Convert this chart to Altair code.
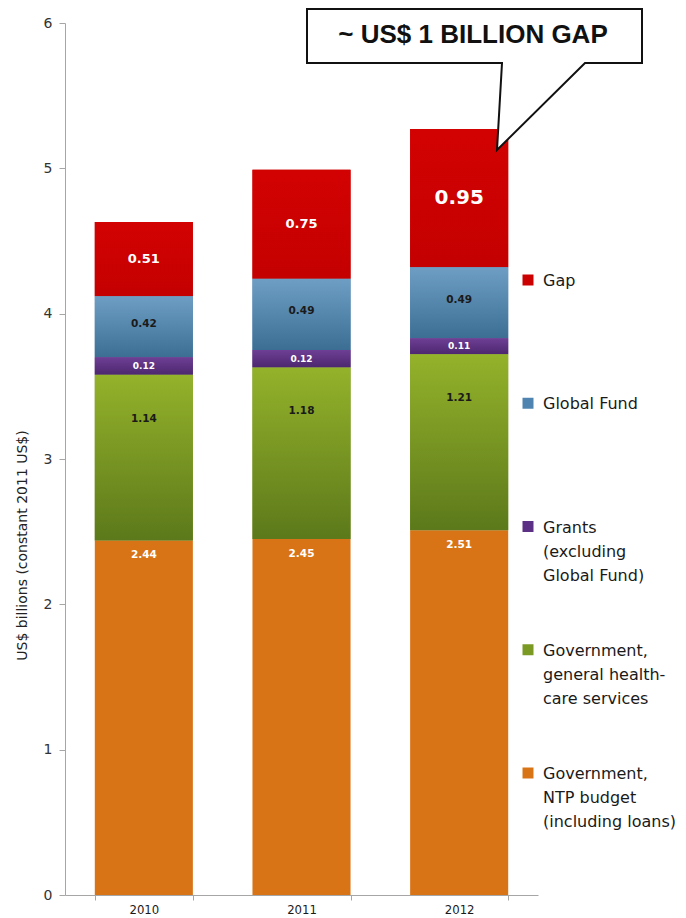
import altair as alt
import pandas as pd

# ---------------- data ----------------
YEARS = ["2010", "2011", "2012"]
SERIES = [
    "Gap",
    "Global Fund",
    "Grants (excluding Global Fund)",
    "Government, general health-care services",
    "Government, NTP budget (including loans)",
]
LEGEND_LABELS = [
    "Gap",
    "Global Fund",
    "Grants\n(excluding\nGlobal Fund)",
    "Government,\ngeneral health-\ncare services",
    "Government,\nNTP budget\n(including loans)",
]
GAP = [0.51, 0.75, 0.95]
GLOBAL_FUND = [0.42, 0.49, 0.49]
GRANTS = [0.12, 0.12, 0.11]
GOV_GENERAL = [1.14, 1.18, 1.21]
GOV_NTP = [2.44, 2.45, 2.51]
Y_TICKS = [0, 1, 2, 3, 4, 5, 6]
Y_TITLE = "US$ billions (constant 2011 US$)"
CALLOUT = "~ US$ 1 BILLION GAP"

COLORS = ["#CC0000", "#4F84B0", "#5C3084", "#7A9A24", "#D97416"]
GRADIENTS = {
    "Gap": ("#D30202", "#C40000"),
    "Global Fund": ("#6E9EC4", "#3C6E94"),
    "Grants (excluding Global Fund)": ("#6E3F95", "#4C276E"),
    "Government, general health-care services": ("#94B22A", "#5C791B"),
}

SERIES_VALUES = [GAP, GLOBAL_FUND, GRANTS, GOV_GENERAL, GOV_NTP]
rows = []
for i, (s, vals) in enumerate(zip(SERIES, SERIES_VALUES)):
    for y, v in zip(YEARS, vals):
        rows.append({"year": y, "series": s, "value": v, "rank": len(SERIES) - 1 - i})
df = pd.DataFrame(rows)
legend_df = pd.DataFrame({"series": SERIES, "label": LEGEND_LABELS})
callout_df = pd.DataFrame({"text": [CALLOUT]})

# ---------------- encodings ----------------
X = alt.X(
    "year:N",
    scale=alt.Scale(domain=YEARS, paddingInner=0.378, paddingOuter=0.189),
    axis=alt.Axis(
        title=None, labelAngle=0, labelFont="DejaVu Sans Condensed", labelFontSize=13,
        labelColor="#1a1a1a", labelPadding=3, tickBand="extent", tickSize=5,
        domainColor="#a6a6a6", tickColor="#a6a6a6", grid=False,
    ),
)
YSCALE = alt.Scale(domain=[0, 6], nice=False)
YAXIS = alt.Axis(
    values=Y_TICKS, title=Y_TITLE, grid=False, labelFont="DejaVu Sans", labelFontSize=14,
    labelColor="#333333", labelPadding=7, tickSize=6, domainColor="#a6a6a6",
    tickColor="#a6a6a6", titleFont="DejaVu Sans", titleFontSize=14,
    titleFontWeight="normal", titleColor="#222222", titleX=-43, titleY=522,
    titleAlign="center", titleBaseline="middle",
)


def ycol(field):
    return alt.Y(f"{field}:Q", scale=YSCALE, axis=YAXIS)


base = alt.Chart(df).transform_stack(
    stack="value", groupby=["year"], as_=["y0", "y1"],
    sort=[alt.SortField("rank", order="ascending")],
).transform_calculate(mid="(datum.y0 + datum.y1) / 2")

color = alt.Color("series:N", scale=alt.Scale(domain=SERIES, range=COLORS), legend=None)

bars = base.mark_bar().encode(x=X, y=ycol("y0"), y2="y1:Q", color=color)

overlays = []
for s, (top, bottom) in GRADIENTS.items():
    overlays.append(
        base.transform_filter(alt.datum.series == s).mark_bar(
            color=alt.Gradient(
                gradient="linear", x1=0, x2=0, y1=0, y2=1,
                stops=[alt.GradientStop(color=top, offset=0), alt.GradientStop(color=bottom, offset=1)],
            )
        ).encode(x=X, y=ycol("y0"), y2="y1:Q")
    )

txt = alt.Text("value:Q", format=".2f")
gap_lbl = base.transform_filter(alt.datum.series == SERIES[0]).mark_text(
    font="DejaVu Sans", fontWeight="bold", color="white", baseline="middle"
).encode(x=X, y=ycol("mid"), text=txt,
         size=alt.condition(alt.datum.year == "2012", alt.value(20), alt.value(13)))
gf_lbl = base.transform_filter(alt.datum.series == SERIES[1]).mark_text(
    font="DejaVu Sans", fontWeight="bold", color="#1a1a1a", fontSize=10.5, baseline="middle", dy=-3
).encode(x=X, y=ycol("mid"), text=txt)
gr_lbl = base.transform_filter(alt.datum.series == SERIES[2]).mark_text(
    font="DejaVu Sans", fontWeight="bold", color="white", fontSize=9, baseline="middle"
).encode(x=X, y=ycol("mid"), text=txt)
gen_lbl = base.transform_filter(alt.datum.series == SERIES[3]).mark_text(
    font="DejaVu Sans", fontWeight="bold", color="#1a1a1a", fontSize=10.5, baseline="middle", dy=44
).encode(x=X, y=ycol("y1"), text=txt)
ntp_lbl = base.transform_filter(alt.datum.series == SERIES[4]).mark_text(
    font="DejaVu Sans", fontWeight="bold", color="white", fontSize=10.5, baseline="middle", dy=15
).encode(x=X, y=ycol("y1"), text=txt)

main = alt.layer(bars, *overlays, gap_lbl, gf_lbl, gr_lbl, gen_lbl, ntp_lbl)

# ---------------- legend (manual) ----------------
LY = alt.Y("series:N", scale=alt.Scale(type="point", domain=SERIES, range=[257, 750], padding=0), axis=None)
leg_sym = alt.Chart(legend_df).mark_square(size=121, opacity=1).encode(
    x=alt.value(463), y=LY, color=color
)
leg_txt = alt.Chart(legend_df).mark_text(
    align="left", baseline="top", lineBreak="\n", lineHeight=24, font="DejaVu Sans",
    fontSize=16, color="#1a1a1a", dy=-7
).encode(x=alt.value(478), y=LY, text="label:N")
legend = alt.layer(leg_sym, leg_txt)

# ---------------- callout ----------------
CALLOUT_PATH = "M 242 -14 L 577 -14 L 577 40 L 520 40 L 432 127 L 437 40 L 242 40 Z"
callout_box = alt.Chart(callout_df).mark_point(
    shape=CALLOUT_PATH, size=4, filled=True, fill="white", stroke="#111111",
    strokeWidth=2, opacity=1, fillOpacity=1, strokeOpacity=1,
).encode(x=alt.value(0), y=alt.value(0))
callout_text = alt.Chart(callout_df).mark_text(
    font="Liberation Sans", fontWeight="bold", fontSize=26, color="#111111",
    align="center", baseline="middle",
).encode(x=alt.value(408), y=alt.value(12), text="text:N")

chart = alt.layer(main, legend, callout_box, callout_text).resolve_scale(
    y="independent"
).properties(
    width=473, height=872,
    autosize=alt.AutoSizeParams(type="none"),
    padding={"left": 57, "top": 15, "right": 140, "bottom": 22},
    background="white",
).configure_view(stroke=None)

chart.save("out.html", embed_options={"renderer": "svg", "actions": False})
